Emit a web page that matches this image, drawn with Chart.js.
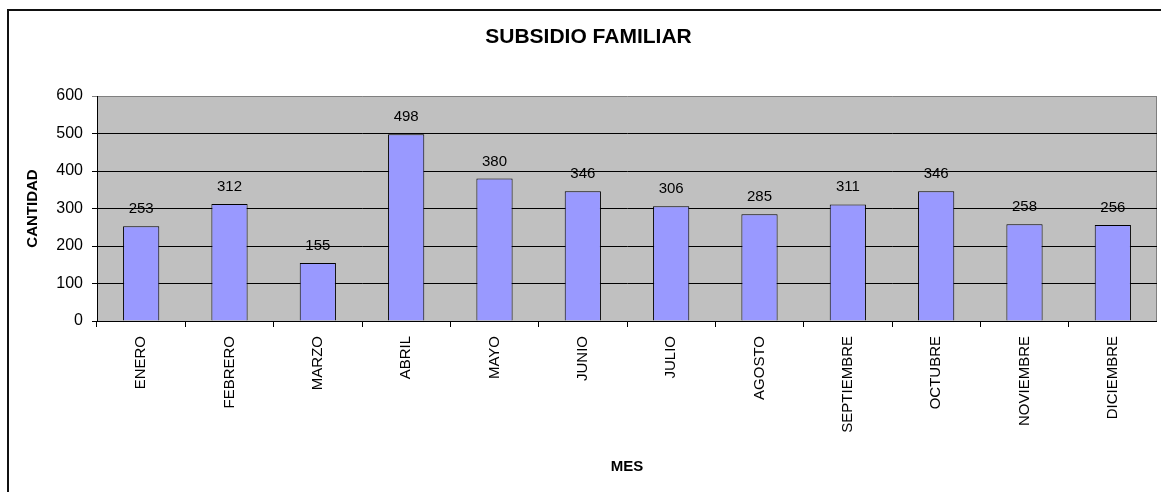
<!DOCTYPE html>
<html>
<head>
<meta charset="utf-8">
<script src="https://cdn.jsdelivr.net/npm/chart.js@4/dist/chart.umd.min.js"></script>
<style>
    html, body { margin: 0; padding: 0; background: #fff; overflow: hidden; }
    #marco {
        position: absolute;
        left: 7px;
        top: 9px;
        width: 1160px;
        height: 490px;
        border-left: 2px solid #111;
        border-top: 2px solid #111;
    }
    #grafico { display: block; }
</style>
</head>
<body>
<div id="marco">
    <canvas id="grafico" width="1148" height="481" style="width:1148px;height:481px;"></canvas>
</div>
<script>
const meses = ['ENERO', 'FEBRERO', 'MARZO', 'ABRIL', 'MAYO', 'JUNIO', 'JULIO', 'AGOSTO', 'SEPTIEMBRE', 'OCTUBRE', 'NOVIEMBRE', 'DICIEMBRE'];
const cantidades = [253, 312, 155, 498, 380, 346, 306, 285, 311, 346, 258, 256];
const ticksY = [0, 100, 200, 300, 400, 500, 600];

Chart.defaults.font.family = 'Arial, "Liberation Sans", sans-serif';
Chart.defaults.color = '#000';

// fondo gris del area de trazado y borde derecho
const fondoPlot = {
    id: 'fondoPlot',
    beforeDraw(chart) {
        const { ctx, chartArea: a } = chart;
        ctx.save();
        ctx.fillStyle = '#C0C0C0';
        ctx.fillRect(a.left, a.top, a.right - a.left, a.bottom - a.top);
        ctx.strokeStyle = '#808080';
        ctx.lineWidth = 1;
        ctx.beginPath();
        ctx.moveTo(a.right - 0.5, a.top);
        ctx.lineTo(a.right - 0.5, a.bottom);
        ctx.stroke();
        ctx.restore();
    }
};

// etiquetas de valor encima de cada barra
const etiquetas = {
    id: 'etiquetas',
    afterDatasetsDraw(chart) {
        const { ctx } = chart;
        const meta = chart.getDatasetMeta(0);
        ctx.save();
        ctx.font = '15px Arial, "Liberation Sans", sans-serif';
        ctx.fillStyle = '#000';
        ctx.textAlign = 'center';
        ctx.textBaseline = 'alphabetic';
        meta.data.forEach((barra, i) => {
            ctx.fillText(String(cantidades[i]), barra.x, barra.y - 13);
        });
        ctx.restore();
    }
};

const ctx = document.getElementById('grafico').getContext('2d');
new Chart(ctx, {
    type: 'bar',
    data: {
        labels: meses,
        datasets: [{
            label: 'CANTIDAD',
            data: cantidades,
            backgroundColor: '#9999FF',
            borderColor: '#000',
            borderWidth: 1,
            barPercentage: 0.41,
            categoryPercentage: 1
        }]
    },
    options: {
        responsive: false,
        animation: false,
        devicePixelRatio: 1,
        layout: {
            padding: { left: 11, right: 0, top: 0, bottom: 0 }
        },
        plugins: {
            legend: { display: false },
            tooltip: { enabled: false },
            title: {
                display: true,
                text: 'SUBSIDIO FAMILIAR',
                font: { size: 21, weight: 'bold' },
                color: '#000',
                padding: { top: 14, bottom: 45.8 }
            }
        },
        scales: {
            x: {
                afterFit(scale) { scale.height = 171; },
                grid: {
                    display: true,
                    offset: true,
                    drawOnChartArea: false,
                    drawTicks: true,
                    tickLength: 6,
                    color: '#000'
                },
                border: { display: true, color: '#000', width: 1 },
                ticks: {
                    autoSkip: false,
                    minRotation: 90,
                    maxRotation: 90,
                    padding: 9,
                    font: { size: 15 },
                    color: '#000'
                },
                title: {
                    display: true,
                    text: 'MES',
                    font: { size: 15, weight: 'bold' },
                    color: '#000',
                    padding: { top: 4, bottom: 16 }
                }
            },
            y: {
                min: 0,
                max: 600,
                afterFit(scale) { scale.width = 77; },
                afterBuildTicks(scale) {
                    scale.ticks = ticksY.map(v => ({ value: v }));
                },
                grid: {
                    color: c => (c.tick && c.tick.value === 600) ? '#808080' : '#000',
                    drawTicks: true,
                    tickLength: 5
                },
                border: { display: true, color: '#000', width: 1 },
                ticks: {
                    padding: 9,
                    font: { size: 16 },
                    color: '#000'
                },
                title: {
                    display: true,
                    text: 'CANTIDAD',
                    font: { size: 15, weight: 'bold' },
                    color: '#000',
                    padding: { top: 4, bottom: 4 }
                }
            }
        }
    },
    plugins: [fondoPlot, etiquetas]
});
</script>
</body>
</html>
